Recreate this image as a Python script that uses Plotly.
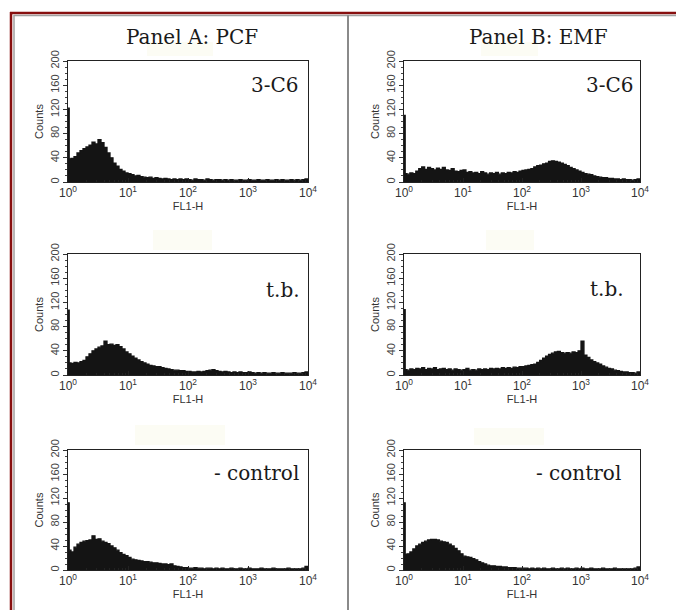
import plotly.graph_objects as go

# ---------------- data ----------------
# histogram channel edges in decades of FL1-H (log10), first narrow bin = off-scale spike channel
bin_edges_log = [0.0, 0.02] + [round(0.05 * k, 2) for k in range(1, 81)]

# counts per channel (first value = spike at 10^0)
a_3c6 = [122, 38,
         39, 42, 48, 52, 55, 58, 61, 66, 63, 70,
         65, 57, 48, 40, 31, 26, 21, 18, 15, 14,
         12, 10, 11, 9, 8, 7, 8, 6, 7, 6,
         5, 6, 5, 4, 5, 4, 5, 4, 5, 4,
         3, 5, 4, 4, 3, 5, 4, 3, 4, 4,
         3, 4, 3, 4, 3, 3, 4, 3, 3, 4,
         3, 3, 4, 3, 3, 4, 3, 3, 4, 3,
         4, 3, 3, 4, 3, 4, 3, 4, 5]
b_3c6 = [110, 14,
         13, 15, 14, 18, 22, 25, 21, 24, 22, 20,
         23, 21, 24, 20, 19, 22, 18, 17, 19, 20,
         16, 17, 15, 16, 14, 17, 15, 13, 15, 14,
         16, 13, 15, 14, 16, 15, 17, 16, 18, 19,
         20, 21, 22, 25, 27, 28, 30, 31, 34, 35,
         34, 33, 31, 29, 27, 24, 22, 20, 18, 16,
         14, 13, 12, 10, 9, 8, 7, 7, 6, 6,
         5, 5, 4, 5, 4, 4, 3, 4, 5]
a_tb = [107, 20,
        19, 21, 20, 22, 24, 30, 35, 40, 43, 46,
        48, 56, 50, 51, 49, 50, 47, 43, 38, 35,
        31, 28, 25, 22, 20, 18, 16, 15, 14, 14,
        12, 11, 10, 9, 8, 8, 7, 7, 6, 6,
        5, 5, 6, 5, 6, 7, 8, 9, 7, 6,
        5, 6, 5, 4, 5, 4, 5, 4, 4, 5,
        4, 3, 4, 3, 4, 3, 3, 4, 3, 3,
        4, 3, 3, 3, 4, 3, 3, 4, 5]
b_tb = [108, 9,
        8, 10, 9, 11, 10, 12, 9, 11, 10, 12,
        9, 10, 11, 9, 10, 8, 10, 9, 8, 9,
        11, 8, 9, 8, 10, 9, 10, 9, 11, 10,
        11, 10, 12, 11, 12, 11, 13, 12, 14, 14,
        15, 16, 17, 18, 21, 24, 28, 31, 34, 36,
        38, 39, 37, 36, 37, 36, 38, 37, 40, 56,
        33, 29, 25, 22, 20, 18, 15, 13, 11, 10,
        8, 7, 6, 5, 5, 4, 4, 3, 5]
a_ctrl = [112, 33,
          30, 38, 43, 46, 48, 49, 50, 57, 51, 52,
          48, 46, 44, 40, 37, 33, 29, 26, 24, 21,
          18, 17, 16, 15, 14, 14, 13, 12, 12, 11,
          10, 10, 9, 10, 7, 6, 5, 4, 4, 3,
          3, 4, 3, 3, 2, 3, 3, 2, 3, 2,
          3, 2, 2, 3, 2, 2, 3, 2, 2, 3,
          2, 2, 2, 3, 2, 2, 2, 3, 2, 2,
          2, 2, 3, 2, 2, 2, 2, 3, 6]
b_ctrl = [112, 26,
          27, 30, 35, 40, 43, 46, 48, 50, 51, 51,
          50, 48, 47, 46, 43, 40, 36, 32, 27, 23,
          22, 21, 19, 17, 14, 12, 10, 8, 7, 7,
          6, 6, 5, 5, 4, 4, 4, 3, 3, 3,
          3, 2, 3, 2, 3, 2, 3, 2, 2, 3,
          2, 2, 3, 2, 3, 2, 2, 3, 2, 3,
          2, 2, 3, 2, 2, 2, 3, 2, 2, 2,
          3, 2, 2, 2, 2, 2, 2, 3, 5]

panel_titles = ["Panel A: PCF", "Panel B: EMF"]
sample_labels = ["3-C6", "t.b.", "- control"]
series = [[a_3c6, b_3c6], [a_tb, b_tb], [a_ctrl, b_ctrl]]
x_tick_vals = [1, 10, 100, 1000, 10000]
x_tick_text = ["10<sup>0</sup>", "10<sup>1</sup>", "10<sup>2</sup>", "10<sup>3</sup>", "10<sup>4</sup>"]
y_tick_vals = [0, 40, 80, 120, 160, 200]

# ---------------- layout helpers ----------------
W, H = 676, 610
def px(x):
    return x / W
def py(y):
    return 1 - y / H

col_px = [(68, 308), (404, 640)]
row_px = [(61, 182), (254, 375), (450, 570)]
label_pos = [[(301, 85), (636, 85)], [(302, 290), (626, 289)], [(301, 473), (623, 473)]]

minor_x = [m * 10 ** e for e in range(4) for m in range(2, 10)]
sans = "Liberation Sans, Arial, sans-serif"
serif = "DejaVu Serif, serif"

fig = go.Figure()
layout = dict(
    width=W, height=H, margin=dict(l=0, r=0, t=0, b=0, autoexpand=False),
    paper_bgcolor="white", plot_bgcolor="white", showlegend=False,
)

x_plot = [10 ** e for e in bin_edges_log]
k = 0
for r in range(3):
    for c in range(2):
        k += 1
        sfx = "" if k == 1 else str(k)
        vals = series[r][c]
        fig.add_trace(go.Scatter(
            x=x_plot, y=vals + [vals[-1]], mode="lines", line_shape="hv",
            fill="tozeroy", fillcolor="#141414",
            line=dict(color="#141414", width=1.3),
            xaxis="x" + sfx, yaxis="y" + sfx, hoverinfo="skip",
        ))
        x0, x1 = col_px[c]
        y0, y1 = row_px[r]
        layout["xaxis" + sfx] = dict(
            type="log", range=[0, 4], domain=[px(x0), px(x1)], anchor="y" + sfx,
            automargin=False,
            showline=True, mirror=True, linecolor="#222", linewidth=1,
            ticks="inside", ticklen=4, tickcolor="#222",
            tickvals=x_tick_vals, ticktext=x_tick_text,
            tickfont=dict(family=sans, size=12, color="#333"),
            minor=dict(tickvals=minor_x, ticks="inside", ticklen=2, tickcolor="#222"),
            showgrid=False, zeroline=False,
            title=dict(text="FL1-H", font=dict(family=sans, size=11, color="#333"), standoff=0),
        )
        layout["yaxis" + sfx] = dict(
            range=[0, 200], domain=[py(y1), py(y0)], anchor="x" + sfx,
            automargin=False,
            showline=True, mirror=True, linecolor="#222", linewidth=1,
            ticks="outside", ticklen=4, tickcolor="#333",
            tickvals=y_tick_vals, tickangle=-90,
            tickfont=dict(family=sans, size=11, color="#444"),
            minor=dict(dtick=10, ticks="outside", ticklen=2, tickcolor="#444"),
            showgrid=False, zeroline=False,
            title=dict(text="Counts", font=dict(family=sans, size=11, color="#333"), standoff=2),
        )

annotations = []
for c, t in enumerate(panel_titles):
    cx = [192, 538][c]
    annotations.append(dict(text=t, x=px(cx), y=py(37), xref="paper", yref="paper",
                            showarrow=False, xanchor="center", yanchor="middle",
                            font=dict(family=serif, size=20, color="#1a1a1a")))
for r in range(3):
    for c in range(2):
        lx, ly = label_pos[r][c]
        annotations.append(dict(text=sample_labels[r], x=px(lx), y=py(ly), xref="paper", yref="paper",
                                showarrow=False, xanchor="right", yanchor="middle",
                                font=dict(family=serif, size=20, color="#1a1a1a")))
layout["annotations"] = annotations

shapes = []
# faint scan patches
for (x0, y0, x1, y1) in [(147, 42, 213, 56), (481, 42, 538, 56), (153, 230, 212, 250),
                         (486, 230, 534, 250), (135, 425, 225, 445), (474, 428, 544, 445)]:
    shapes.append(dict(type="rect", xref="paper", yref="paper", x0=px(x0), x1=px(x1),
                       y0=py(y1), y1=py(y0), fillcolor="#fcfcf4", line=dict(width=0), layer="below"))
# frame: dark red outer lines with grey inner lines, divider
shapes += [
    dict(type="line", xref="paper", yref="paper", x0=px(10), x1=1, y0=py(13), y1=py(13),
         line=dict(color="#870f0f", width=2.5)),
    dict(type="line", xref="paper", yref="paper", x0=px(14), x1=1, y0=py(15.5), y1=py(15.5),
         line=dict(color="#a0a0a0", width=1.5)),
    dict(type="line", xref="paper", yref="paper", x0=px(11), x1=px(11), y0=0, y1=py(12),
         line=dict(color="#870f0f", width=2.5)),
    dict(type="line", xref="paper", yref="paper", x0=px(14), x1=px(14), y0=0, y1=py(15),
         line=dict(color="#a0a0a0", width=1.5)),
    dict(type="line", xref="paper", yref="paper", x0=px(348), x1=px(348), y0=0, y1=py(15),
         line=dict(color="#8a8a8a", width=2)),
]
layout["shapes"] = shapes

fig.update_layout(**layout)
fig.write_html("out.html")
